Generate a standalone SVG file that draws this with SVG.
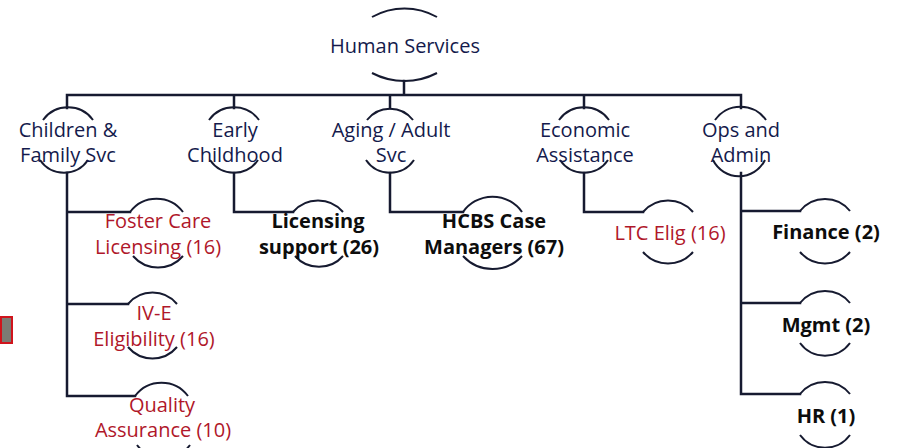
<svg xmlns="http://www.w3.org/2000/svg" width="900" height="448" viewBox="0 0 900 448">
<style>
.ln{fill:none;stroke:#161a30;stroke-width:2.5;stroke-linecap:square}
.arc{fill:none;stroke:#161a30;stroke-width:2}
text{font-family:"Open Sans","Noto Sans","Liberation Sans",sans-serif;font-size:20px;text-anchor:middle}
.t1{fill:#141a4c}
.red{fill:#b0172a}
.bold{fill:#0d0d0d;font-weight:bold}
</style>
<rect width="900" height="448" fill="#ffffff"/>
<g id="connectors">
<path class="ln" d="M404 81 V95 M67 95 H741 M67 95 V108 M234 95 V108 M390 95 V108 M584 95 V108 M741 95 V108"/>
<path class="ln" d="M67 173 V396 M67 212 H130 M67 304 H128 M67 396 H135"/>
<path class="ln" d="M234 173 V212 H293"/>
<path class="ln" d="M390 173 V212 H463"/>
<path class="ln" d="M584 173 V212 H643"/>
<path class="ln" d="M741 173 V394 M741 211 H800 M741 303 H800 M741 394 H800"/>
</g>
<g id="human-services">
<path class="arc" d="M372 17 A66 66 0 0 1 437 17"/>
<path class="arc" d="M372 73 A70 70 0 0 0 437 73"/>
<text class="t1" x="405" y="53">Human Services</text>
</g>
<g id="children-family">
<path class="arc" d="M43 120 A31 31 0 0 1 93 120"/>
<path class="arc" d="M40 160 A29 29 0 0 0 88 160"/>
<text class="t1" x="68" y="137">Children &amp;</text>
<text class="t1" x="68" y="162">Family Svc</text>
</g>
<g id="early-childhood">
<path class="arc" d="M209 120 A31 31 0 0 1 259 120"/>
<path class="arc" d="M210 160 A29 29 0 0 0 258 160"/>
<text class="t1" x="235" y="137">Early</text>
<text class="t1" x="235" y="162">Childhood</text>
</g>
<g id="aging-adult">
<path class="arc" d="M367 120 A29 29 0 0 1 413 120"/>
<path class="arc" d="M366 160 A29 29 0 0 0 414 160"/>
<text class="t1" x="391" y="137">Aging / Adult</text>
<text class="t1" x="391" y="162">Svc</text>
</g>
<g id="economic-assistance">
<path class="arc" d="M559 120 A31 31 0 0 1 609 120"/>
<path class="arc" d="M560 160 A29 29 0 0 0 608 160"/>
<text class="t1" x="585" y="137">Economic</text>
<text class="t1" x="585" y="162">Assistance</text>
</g>
<g id="ops-admin">
<path class="arc" d="M715 120 A31 31 0 0 1 766 120"/>
<path class="arc" d="M713 160 A29 29 0 0 0 765 160"/>
<text class="t1" x="741" y="137">Ops and</text>
<text class="t1" x="741" y="162">Admin</text>
</g>
<g id="foster-care">
<path class="arc" d="M130 212 A33 33 0 0 1 183 212"/>
<path class="arc" d="M133 256 A33 33 0 0 0 183 256"/>
<text class="red" x="158" y="228">Foster Care</text>
<text class="red" x="158" y="254">Licensing (16)</text>
</g>
<g id="iv-e">
<path class="arc" d="M128 304 A32 32 0 0 1 177 304"/>
<path class="arc" d="M128 347 A32 32 0 0 0 177 347"/>
<text class="red" x="154" y="320">IV-E</text>
<text class="red" x="154" y="346">Eligibility (16)</text>
</g>
<g id="quality-assurance">
<path class="arc" d="M135 396 A33 33 0 0 1 188 396"/>
<path class="arc" d="M137 445 A33 33 0 0 0 190 445"/>
<text class="red" x="162" y="412">Quality</text>
<text class="red" x="163" y="437">Assurance (10)</text>
</g>
<g id="licensing-support">
<path class="arc" d="M293 212 A33 33 0 0 1 343 212"/>
<path class="arc" d="M295 256 A32 32 0 0 0 343 256"/>
<text class="bold" x="318" y="228">Licensing</text>
<text class="bold" x="319" y="254">support (26)</text>
</g>
<g id="hcbs">
<path class="arc" d="M463 212 A36 36 0 0 1 522 212"/>
<path class="arc" d="M463 256 A40 40 0 0 0 522 256"/>
<text class="bold" x="494" y="228">HCBS Case</text>
<text class="bold" x="494" y="254">Managers (67)</text>
</g>
<g id="ltc-elig">
<path class="arc" d="M643 212 A33 33 0 0 1 693 212"/>
<path class="arc" d="M643 252 A33 33 0 0 0 693 252"/>
<text class="red" x="670" y="240">LTC Elig (16)</text>
</g>
<g id="finance">
<path class="arc" d="M800 211 A32 32 0 0 1 850 211"/>
<path class="arc" d="M800 252 A33 33 0 0 0 850 252"/>
<text class="bold" x="826" y="239">Finance (2)</text>
</g>
<g id="mgmt">
<path class="arc" d="M800 303 A32 32 0 0 1 850 303"/>
<path class="arc" d="M800 343 A31 31 0 0 0 850 343"/>
<text class="bold" x="826" y="332">Mgmt (2)</text>
</g>
<g id="hr">
<path class="arc" d="M800 394 A32 32 0 0 1 850 394"/>
<path class="arc" d="M800 435 A31 31 0 0 0 850 435"/>
<text class="bold" x="826" y="423">HR (1)</text>
</g>
<rect x="1" y="317" width="11" height="26" fill="#7c7b74" stroke="#d0141c" stroke-width="2"/>
</svg>
